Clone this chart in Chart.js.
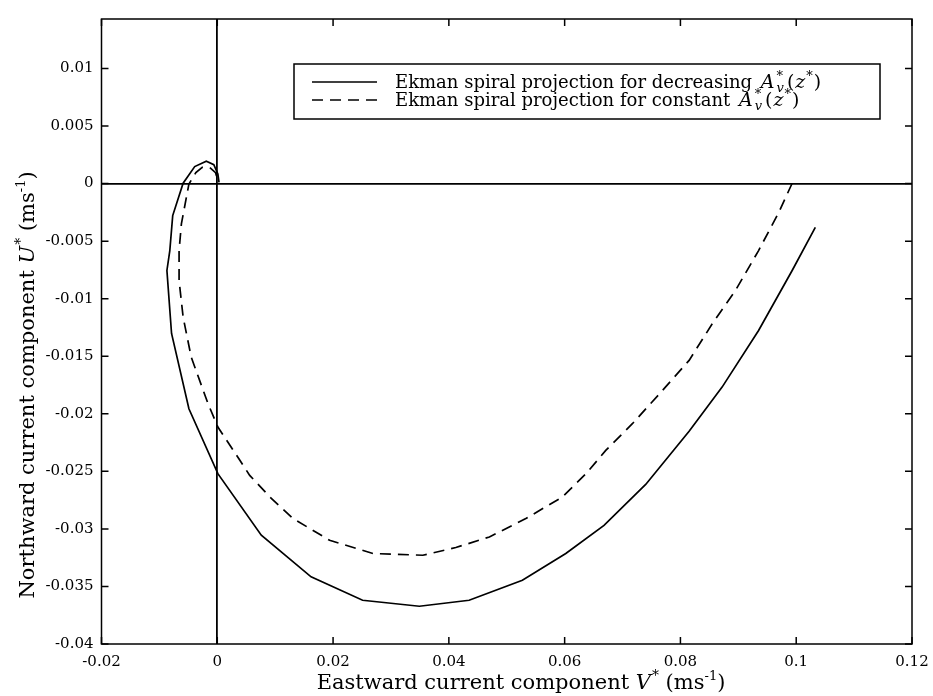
<!DOCTYPE html>
<html><head><meta charset="utf-8">
<script src="https://cdn.jsdelivr.net/npm/chart.js@4/dist/chart.umd.min.js"></script>
<style>html,body{margin:0;padding:0;background:#fff;}#wrap{width:933px;height:696px;}</style>
</head><body><div id="wrap"><canvas id="c" width="933" height="696"></canvas></div>
<script>
// Series: decreasing A_v(z) (solid), from surface to depth
const solidX = [0.1033, 0.0993, 0.0935, 0.0872, 0.0815, 0.0740, 0.0668, 0.0602, 0.0527, 0.0435, 0.0349, 0.0251, 0.0162, 0.0076, 0.0001, -0.0049, -0.0079, -0.0087, -0.0082, -0.0077, -0.0059, -0.0039, -0.0019, -0.0006, 0.0001, 0.0003];
const solidY = [-0.0038, -0.00755, -0.01276, -0.01768, -0.02152, -0.02614, -0.02969, -0.03214, -0.03446, -0.0362, -0.03672, -0.0362, -0.03417, -0.03055, -0.0252, -0.01956, -0.01302, -0.00755, -0.00582, -0.00278, 0.00003, 0.00148, 0.00194, 0.00165, 0.00084, 0.0001];
// Series: constant A_v(z) (dashed)
const dashedX = [0.0993, 0.0970, 0.0935, 0.0895, 0.0855, 0.0815, 0.0769, 0.0717, 0.0671, 0.0637, 0.0596, 0.0533, 0.0470, 0.0412, 0.0355, 0.0269, 0.0194, 0.0131, 0.0091, 0.0056, 0.0039, 0.0001, -0.0016, -0.0045, -0.0059, -0.0066, -0.0066, -0.0062, -0.0049, -0.0037, -0.0026, -0.0013, -0.0003, 0.0001];
const dashedY = [0.00003, -0.00249, -0.00582, -0.00929, -0.01218, -0.01536, -0.01797, -0.02086, -0.02318, -0.0252, -0.02723, -0.0291, -0.0307, -0.03162, -0.03229, -0.03214, -0.03099, -0.0291, -0.02723, -0.02535, -0.02404, -0.02115, -0.01912, -0.01508, -0.0116, -0.00842, -0.00582, -0.0035, -0.00003, 0.00095, 0.00141, 0.00139, 0.00095, 0.00026];

const xTickValues = [-0.02, 0, 0.02, 0.04, 0.06, 0.08, 0.1, 0.12];
const xTickLabels = ['-0.02', '0', '0.02', '0.04', '0.06', '0.08', '0.1', '0.12'];
const yTickValues = [-0.04, -0.035, -0.03, -0.025, -0.02, -0.015, -0.01, -0.005, 0, 0.005, 0.01];
const yTickLabels = ['-0.04', '-0.035', '-0.03', '-0.025', '-0.02', '-0.015', '-0.01', '-0.005', '0', '0.005', '0.01'];
const seriesNames = ['Ekman spiral projection for decreasing ', 'Ekman spiral projection for constant '];
const xTitle = ['Eastward current component ', 'V', '*', ' (ms', '-1', ')'];
const yTitle = ['Northward current component ', 'U', '*', ' (ms', '-1', ')'];

const SERIF = '"DejaVu Serif", "Liberation Serif", serif';
const toPts = (xs, ys) => xs.map((v, i) => ({x: v, y: ys[i]}));

function drawRich(ctx, segs, x, y, align) {
  let w = 0;
  for (const s of segs) { ctx.font = s.font; if (!s.noAdv) w += ctx.measureText(s.t).width + (s.gap || 0); }
  let cx = align === 'center' ? x - w / 2 : x;
  for (const s of segs) {
    ctx.font = s.font;
    ctx.fillText(s.t, cx + (s.dx || 0), y + (s.dy || 0));
    if (!s.noAdv) cx += ctx.measureText(s.t).width + (s.gap || 0);
  }
}
const F = (size, italic) => (italic ? 'italic ' : '') + size + 'px ' + SERIF;

const decor = {
  id: 'decor',
  afterDraw(chart) {
    const {ctx, chartArea: a, scales: {x, y}} = chart;
    ctx.save();
    ctx.strokeStyle = '#000';
    ctx.fillStyle = '#000';
    ctx.lineWidth = 1.5;
    ctx.strokeRect(a.left, a.top, a.right - a.left, a.bottom - a.top);
    const L = 7;
    ctx.beginPath();
    xTickValues.forEach(v => { const p = x.getPixelForValue(v);
      ctx.moveTo(p, a.bottom); ctx.lineTo(p, a.bottom - L);
      ctx.moveTo(p, a.top); ctx.lineTo(p, a.top + L); });
    yTickValues.forEach(v => { const p = y.getPixelForValue(v);
      ctx.moveTo(a.left, p); ctx.lineTo(a.left + L, p);
      ctx.moveTo(a.right, p); ctx.lineTo(a.right - L, p); });
    ctx.stroke();

    // legend box
    const bx = 294, by = 64, bw = 586, bh = 55;
    ctx.fillStyle = '#fff';
    ctx.fillRect(bx, by, bw, bh);
    ctx.lineWidth = 1.5;
    ctx.strokeRect(bx, by, bw, bh);
    ctx.fillStyle = '#000';
    const rows = [82, 100];
    chart.data.datasets.forEach((ds, i) => {
      ctx.save();
      ctx.lineWidth = 1.6;
      ctx.setLineDash(ds.borderDash || []);
      ctx.beginPath(); ctx.moveTo(312, rows[i]); ctx.lineTo(377, rows[i]); ctx.stroke();
      ctx.restore();
      ctx.textBaseline = 'alphabetic';
      ctx.textAlign = 'left';
      drawRich(ctx, [
        {t: seriesNames[i], font: F(18), gap: 3},
        {t: 'A', font: F(19, true), gap: 2},
        {t: '*', font: F(13), dy: -8, noAdv: true},
        {t: 'v', font: F(13, true), dy: 4, gap: 3},
        {t: '(', font: F(19), gap: 1},
        {t: 'z', font: F(19, true), gap: 1},
        {t: '*', font: F(13), dy: -8, gap: 1},
        {t: ')', font: F(19)}
      ], 395, rows[i] + 6, 'left');
    });

    // axis titles
    ctx.textAlign = 'left';
    ctx.textBaseline = 'alphabetic';
    const mk = (arr) => [
      {t: arr[0], font: F(21)}, {t: arr[1], font: F(21, true), gap: 1}, {t: arr[2], font: F(14), dy: -9},
      {t: arr[3], font: F(21)}, {t: arr[4], font: F(13), dy: -9}, {t: arr[5], font: F(21)}];
    drawRich(ctx, mk(xTitle), 521, 689, 'center');
    ctx.translate(34, 385);
    ctx.rotate(-Math.PI / 2);
    drawRich(ctx, mk(yTitle), 0, 0, 'center');
    ctx.restore();
  }
};

const gridColor = c => (c.tick && Math.abs(c.tick.value) < 1e-12) ? '#000' : 'rgba(0,0,0,0)';

new Chart(document.getElementById('c'), {
  type: 'scatter',
  data: {
    datasets: [
      {label: seriesNames[0], data: toPts(solidX, solidY), showLine: true, borderColor: '#000', borderWidth: 1.7, pointRadius: 0, tension: 0, fill: false},
      {label: seriesNames[1], data: toPts(dashedX, dashedY), showLine: true, borderColor: '#000', borderWidth: 1.7, borderDash: [11, 7], pointRadius: 0, tension: 0, fill: false}
    ]
  },
  options: {
    responsive: false,
    animation: false,
    devicePixelRatio: 1,
    layout: {padding: {top: 19, right: 21, left: 0, bottom: 0}},
    plugins: {legend: {display: false}, tooltip: {enabled: false}},
    scales: {
      x: {
        type: 'linear', min: -0.02, max: 0.12,
        afterBuildTicks: s => { s.ticks = xTickValues.map(v => ({value: v})); },
        afterFit: s => { s.height = 52; s.paddingLeft = 0; s.paddingRight = 0; },
        ticks: {callback: (v, i) => xTickLabels[i], font: {family: SERIF, size: 15}, color: '#000', padding: 9, maxRotation: 0, autoSkip: false},
        grid: {drawTicks: false, color: gridColor, lineWidth: 1.8},
        border: {display: false}
      },
      y: {
        type: 'linear', min: -0.04, max: 0.0143,
        afterBuildTicks: s => { s.ticks = yTickValues.map(v => ({value: v})); },
        afterFit: s => { s.width = 101.5; s.paddingTop = 0; s.paddingBottom = 0; },
        ticks: {callback: (v, i) => yTickLabels[i], font: {family: SERIF, size: 15}, color: '#000', padding: 8, autoSkip: false},
        grid: {drawTicks: false, color: gridColor, lineWidth: 1.8},
        border: {display: false}
      }
    }
  },
  plugins: [decor]
});
</script>
</body></html>
